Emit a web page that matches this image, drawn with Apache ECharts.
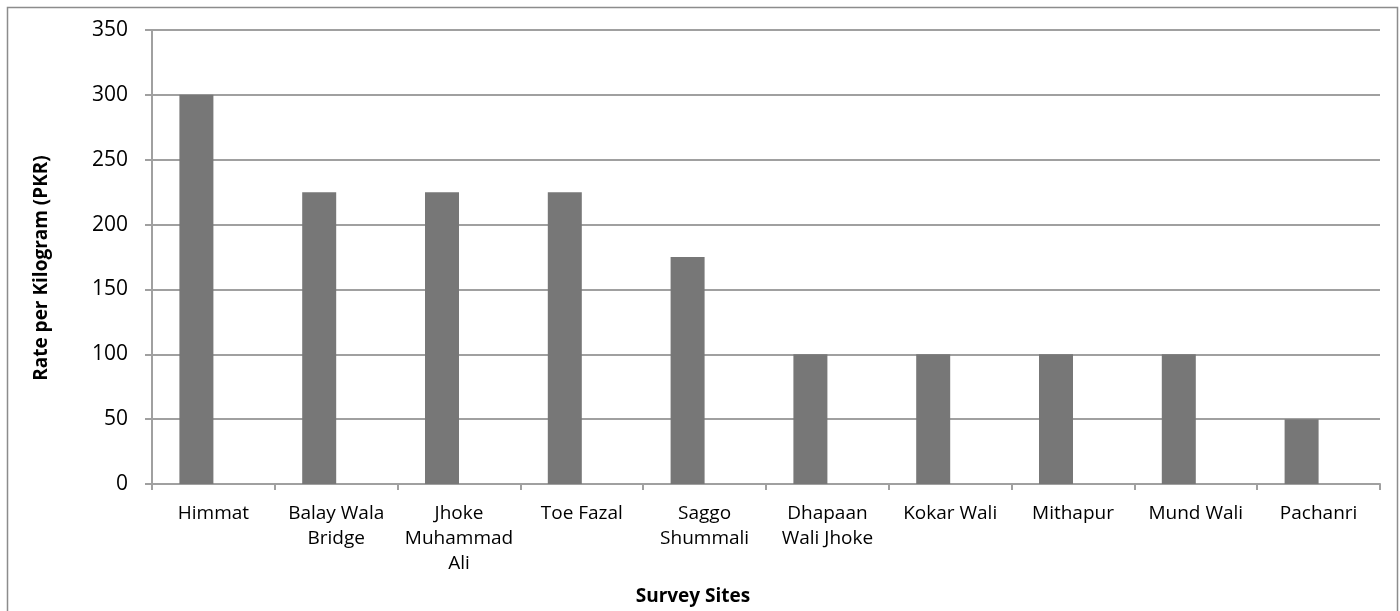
<!DOCTYPE html>
<html>
<head>
<meta charset="utf-8">
<script src="https://cdn.jsdelivr.net/npm/echarts@6/dist/echarts.min.js"></script>
<style>html,body{margin:0;padding:0;background:#fff;}#c{width:1400px;height:611px;}</style>
</head>
<body>
<div id="c"></div>
<script>
const categories = ["Himmat", "Balay Wala\nBridge", "Jhoke\nMuhammad\nAli", "Toe Fazal", "Saggo\nShummali", "Dhapaan\nWali Jhoke", "Kokar Wali", "Mithapur", "Mund Wali", "Pachanri"];
const rates = [300, 225, 225, 225, 175, 100, 100, 100, 100, 50];
const blankSeries = [null, null, null, null, null, null, null, null, null, null];
const yTicks = { min: 0, max: 350, interval: 50 };

const chart = echarts.init(document.getElementById('c'));
const font = '"Open Sans", "Liberation Sans", sans-serif';
chart.setOption({
  animation: false,
  backgroundColor: '#fff',
  graphic: [{
    type: 'rect', silent: true,
    shape: { x: 7.5, y: 7.5, width: 1390, height: 620 },
    style: { fill: 'none', stroke: '#8c8c8c', lineWidth: 1.5 }
  }],
  grid: { left: 152, right: 20, top: 30, bottom: 126 },
  xAxis: {
    type: 'category',
    data: categories,
    name: 'Survey Sites',
    nameLocation: 'middle',
    nameGap: 103,
    nameTextStyle: { fontFamily: font, fontSize: 19, fontWeight: 'bold', color: '#000', padding: [0, 146, 0, 0] },
    axisLine: { lineStyle: { color: '#a0a0a0', width: 2 } },
    axisTick: { show: true, length: 6, lineStyle: { color: '#a0a0a0', width: 2 } },
    axisLabel: { fontFamily: font, fontSize: 19, color: '#000', lineHeight: 25, margin: 17, interval: 0 },
    splitLine: { show: false }
  },
  yAxis: {
    type: 'value',
    min: yTicks.min, max: yTicks.max, interval: yTicks.interval,
    name: 'Rate per Kilogram (PKR)',
    nameLocation: 'middle',
    nameGap: 101,
    nameRotate: 90,
    nameTextStyle: { fontFamily: font, fontSize: 19, fontWeight: 'bold', color: '#000', padding: [0, 22, 0, 0] },
    axisLine: { show: true, lineStyle: { color: '#a0a0a0', width: 2 } },
    axisTick: { show: true, length: 7, lineStyle: { color: '#a0a0a0', width: 2 } },
    axisLabel: { fontFamily: font, fontSize: 21, color: '#000', margin: 24 },
    splitLine: { show: true, lineStyle: { color: '#a0a0a0', width: 2 } }
  },
  series: [
    { type: 'bar', data: rates, barWidth: 34, barGap: '0%', itemStyle: { color: '#777777' } },
    { type: 'bar', data: blankSeries, barWidth: 34, itemStyle: { color: '#777777' } }
  ]
});
</script>
</body>
</html>
